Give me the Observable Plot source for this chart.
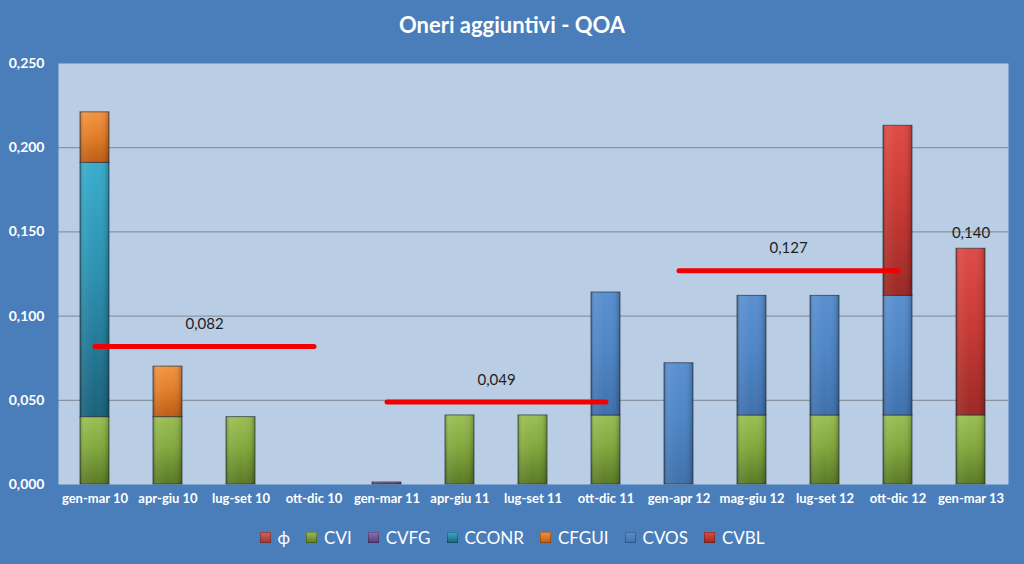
<!DOCTYPE html>
<html><head><meta charset="utf-8">
<script src="https://cdn.jsdelivr.net/npm/d3@7"></script>
<script src="https://cdn.jsdelivr.net/npm/@observablehq/plot@0.6"></script>
<style>
html,body{margin:0;padding:0;}
body{width:1024px;height:564px;background:#4a7ebb;overflow:hidden;font-family:Lato,"Open Sans",sans-serif;}
#title{height:40px;box-sizing:border-box;padding-top:13px;text-align:center;color:#fff;font-weight:700;font-size:22px;line-height:24px;}
#chart{height:480px;}
#chart svg{display:block;}
#legend{display:flex;justify-content:center;align-items:center;height:34px;color:#fff;font-size:17px;}
.item{display:flex;align-items:center;margin:0 8px;}
.sw{width:11px;height:11px;margin-right:7px;box-shadow:inset 0 0 0 1px rgba(0,0,0,0.25);}
</style></head>
<body>
<div id="title">Oneri aggiuntivi - QOA</div>
<div id="chart"></div>
<div id="legend"></div>
<script>
const categories = ["gen-mar 10","apr-giu 10","lug-set 10","ott-dic 10","gen-mar 11","apr-giu 11","lug-set 11","ott-dic 11","gen-apr 12","mag-giu 12","lug-set 12","ott-dic 12","gen-mar 13"];
const seriesNames = ["ϕ","CVI","CVFG","CCONR","CFGUI","CVOS","CVBL"];
const phiValues   = [0,0,0,0,0,0,0,0,0,0,0,0,0];
const cviValues   = [0.040,0.040,0.040,0,0,0.041,0.041,0.041,0,0.041,0.041,0.041,0.041];
const cvfgValues  = [0,0,0,0,0.0012,0,0,0,0,0,0,0,0];
const cconrValues = [0.151,0,0,0,0,0,0,0,0,0,0,0,0];
const cfguiValues = [0.030,0.030,0,0,0,0,0,0,0,0,0,0,0];
const cvosValues  = [0,0,0,0,0,0,0,0.073,0.072,0.071,0.071,0.071,0];
const cvblValues  = [0,0,0,0,0,0,0,0,0,0,0,0.101,0.099];
const seriesValues = [phiValues,cviValues,cvfgValues,cconrValues,cfguiValues,cvosValues,cvblValues];
const seriesColors = [
  ["#d0605c","#c0504d","#9a3a37"],
  ["#9bbf55","#84a93f","#5a7a25"],
  ["#8f73b5","#7558a0","#533b78"],
  ["#3aaccd","#2c90b0","#1b627c"],
  ["#f39443","#e47f2b","#bd5d16"],
  ["#5a90d0","#4f86c6","#3f71ad"],
  ["#de4c46","#ca3a35","#9c2925"]
];
const avgStart  = ["gen-mar 10","gen-mar 11","gen-apr 12"];
const avgEnd    = ["ott-dic 10","ott-dic 11","ott-dic 12"];
const avgValues = [0.082,0.049,0.127];
const avgLabels = ["0,082","0,049","0,127"];
const totalCats   = ["gen-mar 13"];
const totalValues = [0.140];
const totalLabels = ["0,140"];
const yTicks = [0,0.05,0.10,0.15,0.20,0.25];

const rows = [];
seriesNames.forEach((s, si) => seriesValues[si].forEach((v, i) => {
  if (v > 0) rows.push({cat: categories[i], series: s, id: si, value: v});
}));
const avgPoints = [];
avgValues.forEach((v, k) => {
  avgPoints.push({seg: k, cat: avgStart[k], value: v});
  avgPoints.push({seg: k, cat: avgEnd[k], value: v});
});
const avgRows = avgValues.map((v, k) => ({cat: avgStart[k], value: v, label: avgLabels[k],
  span: categories.indexOf(avgEnd[k]) - categories.indexOf(avgStart[k])}));
const totalRows = totalCats.map((c, k) => ({cat: c, value: totalValues[k], label: totalLabels[k]}));

const W = 1024, ML = 58, MR = 16;
const step = (W - ML - MR) / categories.length;
const fmt = d => d3.format(".3f")(d).replace(".", ",");

const svg = Plot.plot({
  width: W, height: 480,
  marginLeft: ML, marginRight: MR, marginTop: 23, marginBottom: 36,
  style: {background: "transparent", color: "#fff", fontFamily: "Lato, 'Open Sans', sans-serif", overflow: "visible"},
  x: {type: "band", domain: categories, paddingInner: 0.6, paddingOuter: 0.3, axis: null},
  y: {domain: [0, 0.25], axis: null},
  color: {type: "identity"},
  marks: [
    Plot.frame({fill: "#b9cde5", stroke: null}),
    Plot.gridY([0.05,0.10,0.15,0.20], {stroke: "#7f8590", strokeOpacity: 1, strokeWidth: 1}),
    Plot.barY(rows, Plot.stackY({x: "cat", y: "value", z: "series", order: seriesNames.slice(1),
      fill: d => "url(#g" + d.id + ")", stroke: "#26303a", strokeOpacity: 0.7, strokeWidth: 1})),
    Plot.barY(rows, Plot.stackY({x: "cat", y: "value", z: "series", order: seriesNames.slice(1),
      fill: () => "url(#hshade)"})),
    Plot.lineY(avgPoints, {x: "cat", y: "value", z: "seg", stroke: "#f00000", strokeWidth: 5, strokeLinecap: "round"}),
    Plot.text(avgRows, {x: "cat", y: "value", text: "label", dx: step * avgRows[0].span / 2, dy: -22,
      fill: "#1e1e1e", fontSize: 15, fontWeight: 400}),
    Plot.text(totalRows, {x: "cat", y: "value", text: "label", dy: -16, fill: "#1e1e1e", fontSize: 15, fontWeight: 400}),
    Plot.axisY({ticks: yTicks, tickFormat: fmt, tickSize: 0, tickPadding: 14, fontSize: 14, fontWeight: "bold", color: "#fff", label: null}),
    Plot.axisX({tickSize: 0, tickPadding: 9, fontSize: 13, fontWeight: "bold", color: "#fff", label: null})
  ]
});

const defs = d3.select(svg).insert("defs", ":first-child");
seriesColors.forEach((c, i) => {
  const g = defs.append("linearGradient").attr("id", "g" + i).attr("x1", 0).attr("y1", 0).attr("x2", 0).attr("y2", 1);
  g.append("stop").attr("offset", "0%").attr("stop-color", c[0]);
  g.append("stop").attr("offset", "45%").attr("stop-color", c[1]);
  g.append("stop").attr("offset", "100%").attr("stop-color", c[2]);
});
const h = defs.append("linearGradient").attr("id", "hshade").attr("x1", 0).attr("y1", 0).attr("x2", 1).attr("y2", 0);
h.append("stop").attr("offset", "0%").attr("stop-color", "#000").attr("stop-opacity", 0.25);
h.append("stop").attr("offset", "15%").attr("stop-color", "#fff").attr("stop-opacity", 0.06);
h.append("stop").attr("offset", "50%").attr("stop-color", "#fff").attr("stop-opacity", 0);
h.append("stop").attr("offset", "85%").attr("stop-color", "#000").attr("stop-opacity", 0.05);
h.append("stop").attr("offset", "100%").attr("stop-color", "#000").attr("stop-opacity", 0.25);
document.getElementById("chart").appendChild(svg);

const legend = document.getElementById("legend");
seriesNames.forEach((s, i) => {
  const it = document.createElement("div"); it.className = "item";
  const sw = document.createElement("div"); sw.className = "sw";
  sw.style.background = `linear-gradient(${seriesColors[i][0]}, ${seriesColors[i][2]})`;
  const t = document.createElement("span"); t.textContent = s;
  it.appendChild(sw); it.appendChild(t); legend.appendChild(it);
});
</script>
</body></html>
